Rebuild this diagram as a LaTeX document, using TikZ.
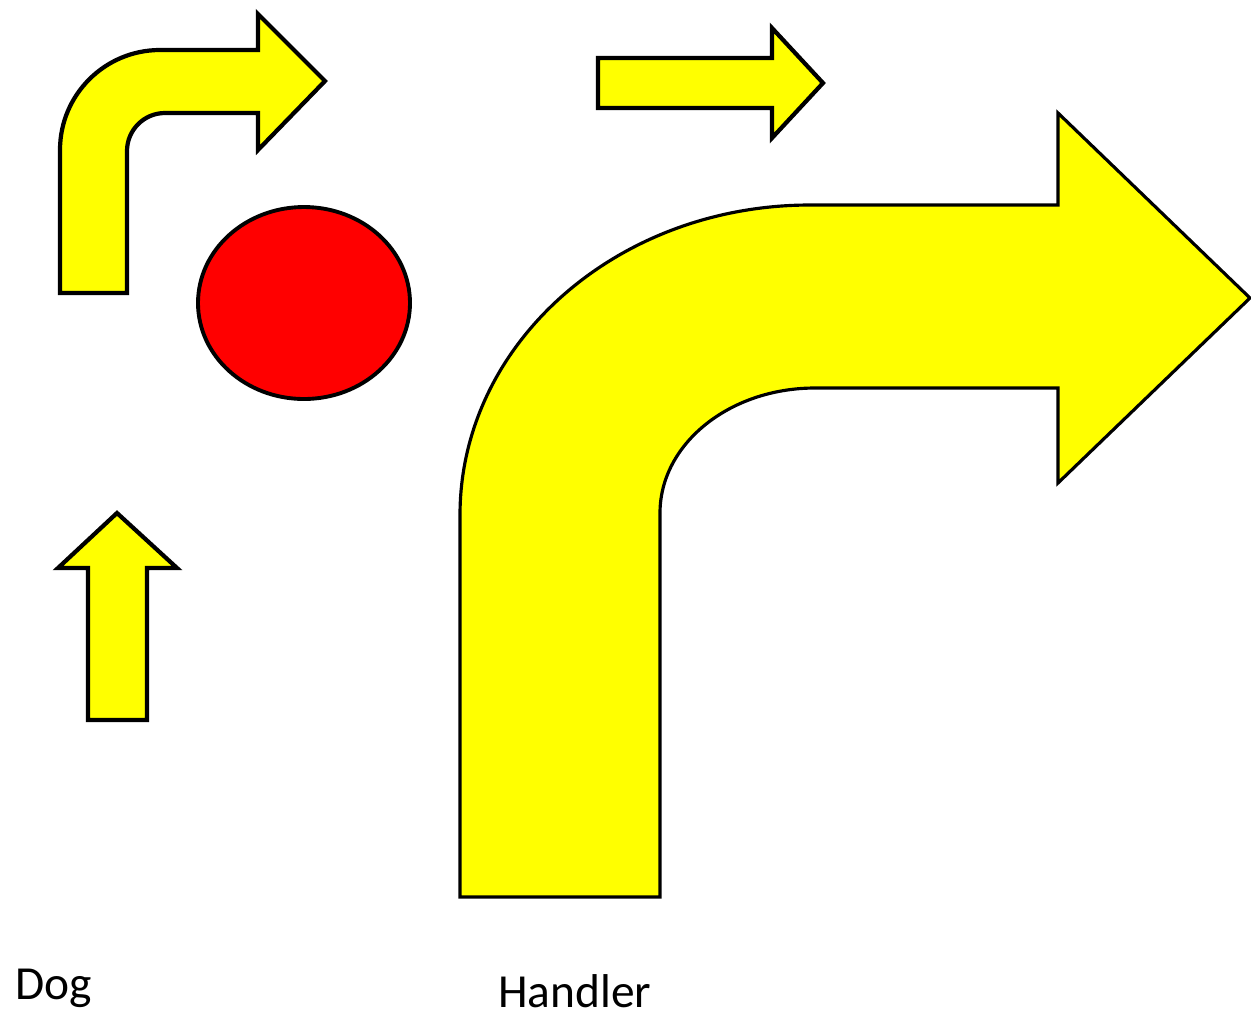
\documentclass[tikz,border=0pt]{standalone}
\usepackage{fontspec}
\setmainfont{Carlito}
\usepackage{tikz}
\usetikzlibrary{positioning}
\definecolor{arrowyellow}{RGB}{255, 255, 0}
\definecolor{ballred}{RGB}{255, 0, 0}

\begin{document}
\begin{tikzpicture}[
    x=0.02cm, y=0.02cm,
    bigarrow/.style={draw=black, fill=arrowyellow, line width=1.8pt, line join=miter},
    smallarrow/.style={draw=black, fill=arrowyellow, line width=2.4pt, line join=miter},
    ball/.style={draw=black, fill=ballred, line width=2.2pt},
    tag/.style={font=\fontsize{27}{32}\selectfont, anchor=base west, inner sep=0pt}
]
\useasboundingbox (0,0) rectangle (1251,-1019);

% bent arrow, top left
\path[smallarrow] (60,-293) -- (60,-150)
    arc[start angle=180, end angle=90, x radius=100, y radius=100]
    -- (258,-50) -- (258,-14) -- (325,-81) -- (258,-150) -- (258,-113) -- (165,-113)
    arc[start angle=90, end angle=180, x radius=38, y radius=38]
    -- (127,-293) -- cycle;

% straight arrow, top
\path[smallarrow] (598,-58) -- (772,-58) -- (772,-28) -- (823,-83)
    -- (772,-138) -- (772,-108) -- (598,-108) -- cycle;

% up arrow
\path[smallarrow] (88,-720) -- (88,-568) -- (58,-568) -- (117,-513)
    -- (177,-568) -- (147,-568) -- (147,-720) -- cycle;

% ball
\path[ball] (304,-303) ellipse[x radius=106, y radius=96];

% big bent arrow
\path[bigarrow] (460,-897) -- (460,-515)
    arc[start angle=180, end angle=90, x radius=350, y radius=310]
    -- (1058,-205) -- (1058,-113) -- (1250,-298) -- (1058,-483) -- (1058,-388) -- (815,-388)
    arc[start angle=90, end angle=180, x radius=155, y radius=125]
    -- (660,-897) -- cycle;

\node[tag] (dog) at (15,-999) {Dog};
\node[tag] (handler) at (498,-1007) {Handler};

\end{tikzpicture}
\end{document}
